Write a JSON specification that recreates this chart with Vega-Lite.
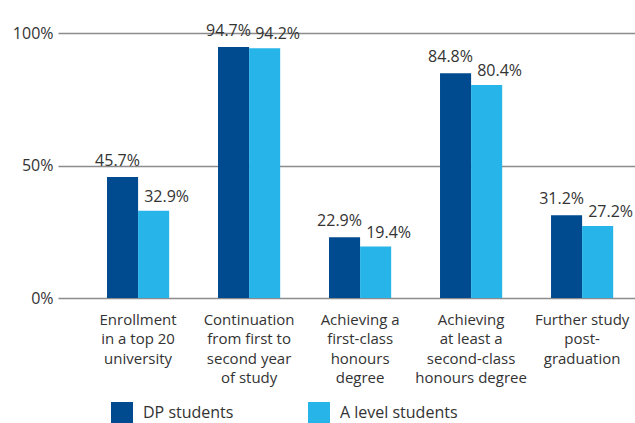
{
  "$schema": "https://vega.github.io/schema/vega-lite/v6.json",
  "width": 577,
  "height": 265,
  "autosize": {"type": "none"},
  "padding": {"left": 58, "top": 33, "right": 0, "bottom": 125},
  "background": "white",
  "config": {
    "font": "Open Sans",
    "view": {"stroke": null}
  },
  "data": {
    "values": [
      {"cat": "Enrollment|in a top 20|university", "group": "DP students", "value": 0.457},
      {"cat": "Enrollment|in a top 20|university", "group": "A level students", "value": 0.329},
      {"cat": "Continuation|from first to|second year|of study", "group": "DP students", "value": 0.947},
      {"cat": "Continuation|from first to|second year|of study", "group": "A level students", "value": 0.942},
      {"cat": "Achieving a|first-class|honours|degree", "group": "DP students", "value": 0.229},
      {"cat": "Achieving a|first-class|honours|degree", "group": "A level students", "value": 0.194},
      {"cat": "Achieving|at least a|second-class|honours degree", "group": "DP students", "value": 0.848},
      {"cat": "Achieving|at least a|second-class|honours degree", "group": "A level students", "value": 0.804},
      {"cat": "Further study|post-|graduation", "group": "DP students", "value": 0.312},
      {"cat": "Further study|post-|graduation", "group": "A level students", "value": 0.272}
    ]
  },
  "encoding": {
    "x": {
      "field": "cat",
      "type": "nominal",
      "sort": null,
      "scale": {"paddingInner": 0.44, "paddingOuter": 0.319, "align": 0.692},
      "axis": {
        "title": null,
        "labelExpr": "split(datum.label, '|')",
        "labelAngle": 0,
        "labelFontSize": 15,
        "labelLineHeight": 19.5,
        "labelColor": "#333333",
        "labelPadding": 14,
        "ticks": false,
        "domain": false,
        "labelLimit": 200
      }
    },
    "xOffset": {
      "field": "group",
      "type": "nominal",
      "sort": ["DP students", "A level students"],
      "scale": {"paddingInner": 0, "paddingOuter": 0}
    },
    "y": {
      "field": "value",
      "type": "quantitative",
      "scale": {"domain": [0, 1]},
      "axis": {
        "title": null,
        "values": [0, 0.5, 1],
        "format": ".0%",
        "labelFontSize": 16,
        "labelColor": "#333333",
        "labelPadding": 5,
        "ticks": false,
        "domain": false,
        "gridColor": "#8c8c8c",
        "gridWidth": 1.5
      }
    }
  },
  "layer": [
    {
      "mark": {"type": "bar"},
      "encoding": {
        "color": {
          "field": "group",
          "type": "nominal",
          "sort": ["DP students", "A level students"],
          "scale": {"domain": ["DP students", "A level students"], "range": ["#004a8f", "#27b4e8"]},
          "legend": {
            "title": null,
            "orient": "none",
            "legendX": 53,
            "legendY": 369,
            "direction": "horizontal",
            "symbolType": "square",
            "symbolSize": 484,
            "symbolStrokeWidth": 0,
            "labelFontSize": 16,
            "labelColor": "#333333",
            "labelOffset": 10,
            "columnPadding": 74,
            "padding": 0
          }
        }
      }
    },
    {
      "transform": [{"filter": "datum.group === 'DP students'"}],
      "mark": {"type": "text", "baseline": "bottom", "dy": -8, "dx": -5, "fontSize": 16, "color": "#333333"},
      "encoding": {
        "text": {"field": "value", "type": "quantitative", "format": ".1%"}
      }
    },
    {
      "transform": [{"filter": "datum.group === 'A level students'"}],
      "mark": {"type": "text", "baseline": "bottom", "dy": -6, "dx": 13, "fontSize": 16, "color": "#333333"},
      "encoding": {
        "text": {"field": "value", "type": "quantitative", "format": ".1%"}
      }
    }
  ]
}
